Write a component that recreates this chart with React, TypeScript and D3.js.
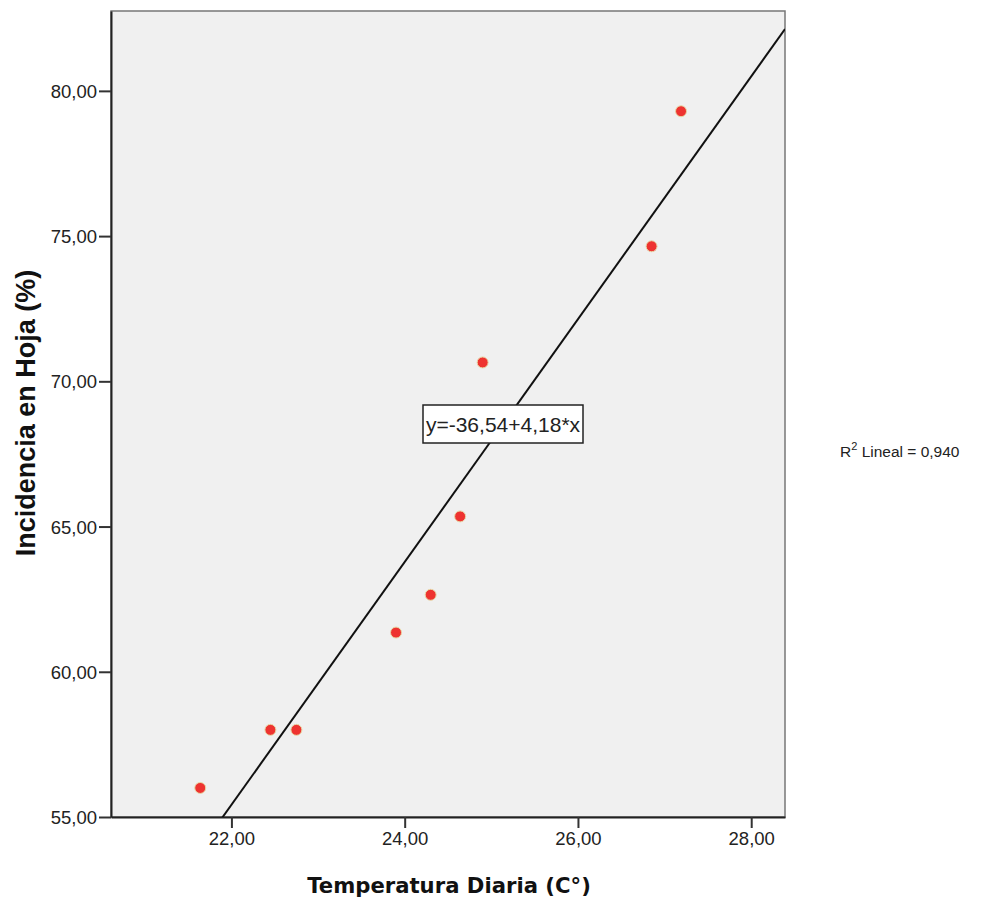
import React, { useEffect, useRef } from 'react'
import * as d3 from 'd3'

const temperatura = [21.64, 22.45, 22.75, 23.9, 24.3, 24.64, 24.9, 26.85, 27.19]
const incidencia = [56.0, 58.0, 58.0, 61.35, 62.65, 65.35, 70.65, 74.65, 79.3]
const xTicks = [22, 24, 26, 28]
const yTicks = [55, 60, 65, 70, 75, 80]
const intercept = -36.54
const slope = 4.18
const r2 = 0.94

const fmt = (v: number) => d3.format('.2f')(v).replace('.', ',').replace('\u2212', '-')

export default function App() {
  const ref = useRef<SVGSVGElement>(null)

  useEffect(() => {
    const svg = d3.select(ref.current)
    svg.selectAll('*').remove()
    const marge = { left: 111, top: 11, right: 785, bottom: 817 }
    const font = 'Arial, "Liberation Sans", sans-serif'

    const x = d3.scaleLinear().domain([20.61, 28.39]).range([marge.left, marge.right])
    const y = d3.scaleLinear().domain([55, 82.75]).range([marge.bottom, marge.top])

    svg.append('rect')
      .attr('x', marge.left).attr('y', marge.top)
      .attr('width', marge.right - marge.left).attr('height', marge.bottom - marge.top)
      .attr('fill', '#f0f0f0').attr('stroke', '#777').attr('stroke-width', 1.5)

    const clip = svg.append('clipPath').attr('id', 'plotclip')
    clip.append('rect')
      .attr('x', marge.left).attr('y', marge.top)
      .attr('width', marge.right - marge.left).attr('height', marge.bottom - marge.top)

    // axes
    const xAxis = d3.axisBottom(x).tickValues(xTicks).tickSize(11).tickSizeOuter(0).tickPadding(4).tickFormat(d => fmt(+d))
    const yAxis = d3.axisLeft(y).tickValues(yTicks).tickSize(12).tickSizeOuter(0).tickPadding(2).tickFormat(d => fmt(+d))
    const gx = svg.append('g').attr('transform', `translate(0,${marge.bottom})`).call(xAxis)
    const gy = svg.append('g').attr('transform', `translate(${marge.left},0)`).call(yAxis)
    for (const g of [gx, gy]) {
      g.select('.domain').attr('stroke', '#222').attr('stroke-width', 2)
      g.selectAll('.tick line').attr('stroke', '#333').attr('stroke-width', 2)
      g.selectAll('.tick text')
        .attr('font-family', font).attr('font-size', 18.5).attr('fill', '#222')
    }
    gy.selectAll('.tick text').attr('dy', '0.36em')

    // regression line
    const xd = x.domain()
    svg.append('line')
      .attr('clip-path', 'url(#plotclip)')
      .attr('x1', x(xd[0])).attr('y1', y(intercept + slope * xd[0]))
      .attr('x2', x(xd[1])).attr('y2', y(intercept + slope * xd[1]))
      .attr('stroke', '#111').attr('stroke-width', 2)

    // points
    svg.append('g').selectAll('circle')
      .data(temperatura)
      .enter()
      .append('circle')
      .attr('cx', d => x(d))
      .attr('cy', (d, i) => y(incidencia[i]))
      .attr('r', 5.5)
      .attr('fill', '#ee3330')
      .attr('stroke', '#e8d9a8').attr('stroke-width', 1)

    // equation label
    const lx = 503, ly = 424
    svg.append('rect')
      .attr('x', lx - 80).attr('y', ly - 19).attr('width', 160).attr('height', 38)
      .attr('fill', '#fff').attr('stroke', '#222').attr('stroke-width', 1.5)
    svg.append('text')
      .attr('x', lx).attr('y', ly + 8)
      .attr('text-anchor', 'middle')
      .attr('font-family', font).attr('font-size', 21).attr('fill', '#222')
      .text(`y=${fmt(intercept)}+${fmt(slope)}*x`)

    // R2 legend
    const leg = svg.append('text')
      .attr('x', 840).attr('y', 457)
      .attr('font-family', font).attr('font-size', 15.5).attr('fill', '#222')
    leg.append('tspan').text('R')
    leg.append('tspan').attr('font-size', 11).attr('dy', -7).text('2')
    leg.append('tspan').attr('dy', 7).text(` Lineal = ${d3.format('.3f')(r2).replace('.', ',')}`)

    // axis titles
    svg.append('text')
      .attr('x', 449).attr('y', 893)
      .attr('text-anchor', 'middle')
      .attr('font-family', '"DejaVu Sans", sans-serif').attr('font-size', 21.2).attr('font-weight', 'bold').attr('fill', '#111')
      .text('Temperatura Diaria (C°)')
    svg.append('text')
      .attr('transform', 'translate(35,413) rotate(-90)')
      .attr('text-anchor', 'middle')
      .attr('font-family', font).attr('font-size', 27).attr('font-weight', 'bold').attr('fill', '#111')
      .text('Incidencia en Hoja (%)')
  }, [])

  return (
    <svg ref={ref} width={987} height={903}
      style={{ position: 'absolute', left: 0, top: 0, background: '#fff' }} />
  )
}
